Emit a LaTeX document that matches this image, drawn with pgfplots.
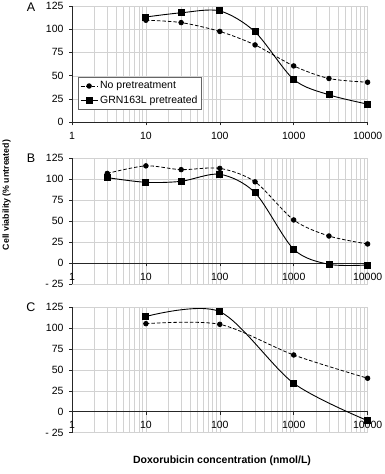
\documentclass[border=0pt]{standalone}
\usepackage{pgfplots}
\pgfplotsset{compat=1.18}
\usepackage{fontspec}
\setmainfont{Liberation Sans}

\pgfplotsset{
  nopre/.style={black, line width=0.8pt, dash pattern=on 3.5pt off 2pt, smooth, tension=0.5, mark=*, mark size=2.3pt, mark options={solid}},
  grn/.style={black, line width=0.9pt, smooth, tension=0.5, mark=square*, mark size=3pt, mark options={solid}},
}

\begin{document}
\begin{tikzpicture}
\path[use as bounding box] (0pt,0pt) rectangle (384pt,-474pt);

% Panel A
\begin{axis}[scale only axis, width=295.6pt,
    xmode=log, xmin=1, xmax=10000,
    axis x line=middle, axis y line=left,
    axis line style={-, black!85, line width=0.6pt},
    hide obscured x ticks=false, hide obscured y ticks=false,
    xtick={1,10,100,1000,10000},
    xticklabels={1,10,100,1000,10000},
    xminorgrids=true, xmajorgrids=true, ymajorgrids=true,
    minor grid style={gray!35, line width=0.4pt},
    major grid style={gray!35, line width=0.4pt},
    tick align=outside, major tick length=3pt, minor tick length=0pt,
    tick style={black!85, line width=0.5pt},
    ticklabel style={font=\fontsize{10.5}{12}\selectfont},
    xticklabel style={yshift=-3pt},
    yticklabel style={xshift=-2pt},
    clip=false,
  at={(72pt,-122.3pt)}, anchor=south west, height=116.5pt,
  ymin=0, ymax=125, ytick={0,25,50,75,100,125},
  yticklabels={0,25,50,75,100,125},
  legend style={at={(0.02,0.385)}, anchor=north west, draw=black!60, line width=0.4pt,
    font=\fontsize{10.5}{12}\selectfont, row sep=1.5pt, inner sep=2pt},
  legend cell align=left]
\addplot[nopre] coordinates {(10,109.5) (30,107) (100,97.5) (300,83) (1000,60.5) (3000,47) (10000,43)};
\addplot[grn] coordinates {(10,113) (30,117.5) (100,119.5) (300,97) (1000,46) (3000,29.5) (10000,19.5)};
\legend{No pretreatment, GRN163L pretreated}
\end{axis}

% Panel B
\begin{axis}[scale only axis, width=295.6pt,
    xmode=log, xmin=1, xmax=10000,
    axis x line=middle, axis y line=left,
    axis line style={-, black!85, line width=0.6pt},
    hide obscured x ticks=false, hide obscured y ticks=false,
    xtick={1,10,100,1000,10000},
    xticklabels={1,10,100,1000,10000},
    xminorgrids=true, xmajorgrids=true, ymajorgrids=true,
    minor grid style={gray!35, line width=0.4pt},
    major grid style={gray!35, line width=0.4pt},
    tick align=outside, major tick length=3pt, minor tick length=0pt,
    tick style={black!85, line width=0.5pt},
    ticklabel style={font=\fontsize{10.5}{12}\selectfont},
    xticklabel style={yshift=-3pt},
    yticklabel style={xshift=-2pt},
    clip=false,
  at={(72pt,-284.3pt)}, anchor=south west, height=126pt,
  ymin=-25, ymax=125, ytick={-25,0,25,50,75,100,125},
  yticklabels={- 25,0,25,50,75,100,125}]
\addplot[nopre] coordinates {(3,107) (10,116) (30,111.5) (100,113) (300,97) (1000,51.6) (3000,32.5) (10000,23)};
\addplot[grn] coordinates {(3,102) (10,96.4) (30,97.6) (100,106) (300,84) (1000,16.7) (3000,-1.2) (10000,-2)};
\end{axis}

% Panel C
\begin{axis}[scale only axis, width=295.6pt,
    xmode=log, xmin=1, xmax=10000,
    axis x line=middle, axis y line=left,
    axis line style={-, black!85, line width=0.6pt},
    hide obscured x ticks=false, hide obscured y ticks=false,
    xtick={1,10,100,1000,10000},
    xminorgrids=true, xmajorgrids=true, ymajorgrids=true,
    minor grid style={gray!35, line width=0.4pt},
    major grid style={gray!35, line width=0.4pt},
    tick align=outside, major tick length=3pt, minor tick length=0pt,
    tick style={black!85, line width=0.5pt},
    ticklabel style={font=\fontsize{10.5}{12}\selectfont},
    xticklabel style={yshift=-3pt},
    yticklabel style={xshift=-2pt},
    clip=false,
  at={(72pt,-432.5pt)}, anchor=south west, height=125.2pt,
  ymin=-25, ymax=125, ytick={-25,0,25,50,75,100,125},
  yticklabels={- 25,0,25,50,75,100,125},
  xticklabels={1,10,100,1000,\raisebox{-7pt}{10000}}]
\addplot[nopre] coordinates {(10,105.4) (100,104.6) (1000,67.9) (10000,40)};
\addplot[grn] coordinates {(10,114) (100,119.8) (1000,34) (10000,-10.8)};
\end{axis}

\node[font=\fontsize{12.5}{14}\selectfont] at (31pt,-7.3pt) {A};
\node[font=\fontsize{12.5}{14}\selectfont] at (31pt,-158.3pt) {B};
\node[font=\fontsize{12.5}{14}\selectfont] at (31pt,-307.5pt) {C};

\node[rotate=90, font=\bfseries\fontsize{8.8}{10}\selectfont] at (6.5pt,-195pt) {Cell viability (\% untreated)};
\node[font=\bfseries\fontsize{10.5}{12}\selectfont] at (222pt,-461pt) {Doxorubicin concentration (nmol/L)};
\end{tikzpicture}
\end{document}
